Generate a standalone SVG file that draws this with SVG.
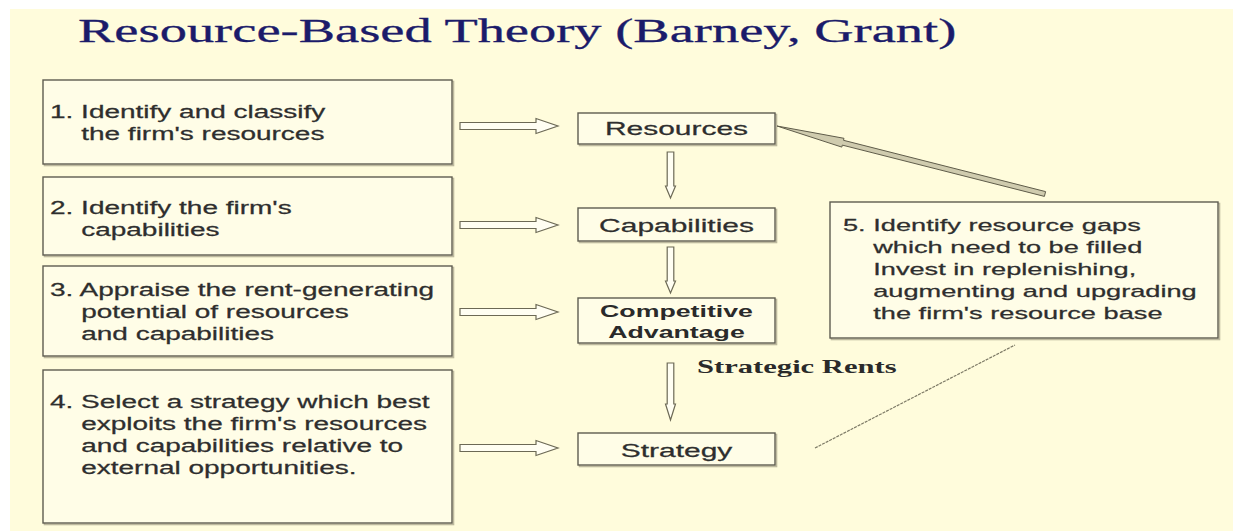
<svg xmlns="http://www.w3.org/2000/svg" width="1233" height="531" viewBox="0 0 1233 531">
<defs>
<style>
.bg{fill:#FFFCDC}
.box{fill:#FFFDE7;stroke:#5e5c50;stroke-width:1.4}
.sh{fill:none;stroke:#bdb99e;stroke-width:1.6}
.t{font-family:"Liberation Sans",Arial,sans-serif;font-size:17.5px;fill:#2e2e2e;stroke:#2e2e2e;stroke-width:0.25}
.t5{font-family:"Liberation Sans",Arial,sans-serif;font-size:17px;fill:#2e2e2e;stroke:#2e2e2e;stroke-width:0.25}
.n{font-family:"Liberation Sans",Arial,sans-serif;font-size:18.5px;fill:#2e2e2e;stroke:#2e2e2e;stroke-width:0.25;text-anchor:middle}
.nb{font-family:"Liberation Sans",Arial,sans-serif;font-size:16.5px;font-weight:bold;fill:#2a2a2a;text-anchor:middle}
.title{font-family:"Liberation Serif","Times New Roman",serif;font-size:33px;fill:#1b1b6a;stroke:#1b1b6a;stroke-width:0.3}
.rent{font-family:"Liberation Serif","Times New Roman",serif;font-size:18px;font-weight:bold;fill:#2a2a2a}
.arr{fill:#FFFEF2;stroke:#6c6955;stroke-width:1.2;stroke-linejoin:miter}
.diag{fill:#cfcbae;stroke:#5f5c4a;stroke-width:1}
.fb{fill:none;stroke:#7d7a66;stroke-width:1.2;stroke-dasharray:3 1}
</style>
</defs>
<rect x="0" y="0" width="1233" height="531" fill="#ffffff"/>
<rect class="bg" x="10" y="9" width="1223" height="522"/>

<g id="title">
<text class="title" transform="translate(78,0) scale(1.65,1)" x="0" y="42">Resource-Based Theory (Barney, Grant)</text>
</g>

<g id="step1">
<rect class="sh" x="44.5" y="81.5" width="409" height="84"/>
<rect class="box" x="43" y="80" width="409" height="84"/>
<text class="t" transform="translate(50,0) scale(1.6,1)"><tspan x="0" y="118">1. Identify and classify</tspan><tspan x="19.5" y="140">the firm's resources</tspan></text>
</g>

<g id="step2">
<rect class="sh" x="44.5" y="178.5" width="409" height="78"/>
<rect class="box" x="43" y="177" width="409" height="78"/>
<text class="t" transform="translate(50,0) scale(1.6,1)"><tspan x="0" y="214">2. Identify the firm's</tspan><tspan x="19.5" y="236">capabilities</tspan></text>
</g>

<g id="step3">
<rect class="sh" x="44.5" y="267.5" width="409" height="90"/>
<rect class="box" x="43" y="266" width="409" height="90"/>
<text class="t" transform="translate(50,0) scale(1.6,1)"><tspan x="0" y="296">3. Appraise the rent-generating</tspan><tspan x="19.5" y="318">potential of resources</tspan><tspan x="19.5" y="340">and capabilities</tspan></text>
</g>

<g id="step4">
<rect class="sh" x="44.5" y="371.5" width="409" height="153"/>
<rect class="box" x="43" y="370" width="409" height="153"/>
<text class="t" transform="translate(50,0) scale(1.6,1)"><tspan x="0" y="408">4. Select a strategy which best</tspan><tspan x="19.5" y="430">exploits the firm's resources</tspan><tspan x="19.5" y="452">and capabilities relative to</tspan><tspan x="19.5" y="474">external opportunities.</tspan></text>
</g>

<g id="step5">
<rect class="sh" x="831.5" y="203.5" width="388" height="136"/>
<rect class="box" x="830" y="202" width="388" height="136"/>
<text class="t5" transform="translate(843,0) scale(1.6,1)"><tspan x="0" y="231">5. Identify resource gaps</tspan><tspan x="18.9" y="253">which need to be filled</tspan><tspan x="18.9" y="275">Invest in replenishing,</tspan><tspan x="18.9" y="297">augmenting and upgrading</tspan><tspan x="18.9" y="319">the firm's resource base</tspan></text>
</g>

<g id="resources">
<rect class="sh" x="579.5" y="114.5" width="197" height="31"/>
<rect class="box" x="578" y="113" width="197" height="31"/>
<text class="n" transform="translate(676.5,0) scale(1.62,1)" x="0" y="135">Resources</text>
</g>

<g id="capabilities">
<rect class="sh" x="579.5" y="209.5" width="197" height="33"/>
<rect class="box" x="578" y="208" width="197" height="33"/>
<text class="n" transform="translate(676.5,0) scale(1.62,1)" x="0" y="232">Capabilities</text>
</g>

<g id="advantage">
<rect class="sh" x="579.5" y="299.5" width="197" height="45"/>
<rect class="box" x="578" y="298" width="197" height="45"/>
<text class="nb" transform="translate(676.5,0) scale(1.62,1)"><tspan x="0" y="317">Competitive</tspan><tspan x="0" y="338">Advantage</tspan></text>
</g>

<g id="strategy">
<rect class="sh" x="579.5" y="434.5" width="197" height="32"/>
<rect class="box" x="578" y="433" width="197" height="32"/>
<text class="n" transform="translate(676.5,0) scale(1.62,1)" x="0" y="457">Strategy</text>
</g>

<g id="rents-label">
<text class="rent" transform="translate(697,0) scale(1.7,1)" x="0" y="373">Strategic Rents</text>
</g>

<g id="connectors">
<path class="arr" d="M460,122.5 H536 V118.5 L558,126 L536,133.5 V129.5 H460 Z"/>
<path class="arr" d="M460,221.5 H536 V217.5 L558,225 L536,232.5 V228.5 H460 Z"/>
<path class="arr" d="M460,308.5 H536 V304.5 L558,312 L536,319.5 V315.5 H460 Z"/>
<path class="arr" d="M460,444.5 H536 V440.5 L558,448 L536,455.5 V451.5 H460 Z"/>
<path class="arr" d="M667.2,152 V186 H665.5 L670.5,198 L675.5,186 H673.8 V152 Z"/>
<path class="arr" d="M667.2,247 V281 H665.5 L670.5,293 L675.5,281 H673.8 V247 Z"/>
<path class="arr" d="M667.2,363 V404 H665.5 L670.5,420 L675.5,404 H673.8 V363 Z"/>
<path class="diag" d="M777,126 L844,138.3 L843.5,140.3 L1045.6,191.6 L1044.4,196.4 L842.3,145.1 L841.8,147.1 Z"/>
<line class="fb" x1="815" y1="448" x2="1015" y2="345"/>
</g>
</svg>
